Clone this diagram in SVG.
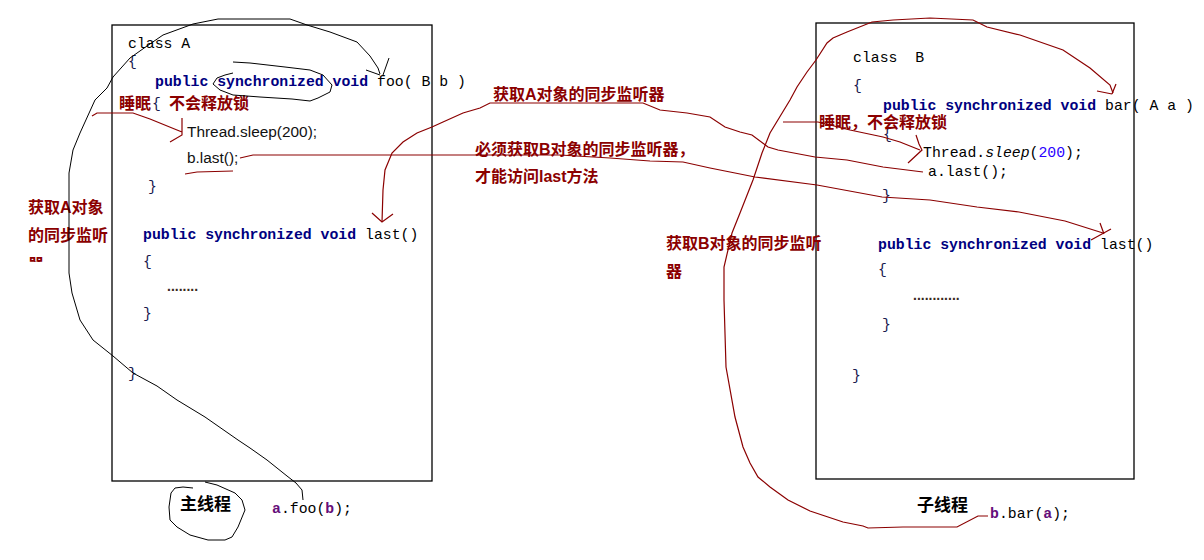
<svg xmlns="http://www.w3.org/2000/svg" width="1204" height="560" viewBox="0 0 1204 560">
<defs>
<style>
text{white-space:pre}
.code{font-family:'Liberation Mono',monospace;font-size:14.8px;fill:#000}
.kw{font-weight:bold;fill:#000080}
.br{fill:#1a1a50}
.dots{font-family:'Liberation Sans',sans-serif;font-size:14px;font-weight:bold;fill:#3a2a20}
.sans{font-family:'Liberation Sans',sans-serif;font-size:15.4px;fill:#111}
.lbl{font-family:'Liberation Sans','Noto Sans CJK SC',sans-serif;font-size:16px;font-weight:bold;fill:#8B0000}
.thr{font-family:'Liberation Sans','Noto Sans CJK SC',sans-serif;font-size:17px;font-weight:bold;fill:#000}
.var{font-weight:bold;fill:#660e7a}
.box{fill:#fff;stroke:#000;stroke-width:1.3}
.pen{fill:none;stroke:#000;stroke-width:1}
.red{fill:none;stroke:#8B0000;stroke-width:1.2}
</style>
<clipPath id="clipQi"><rect x="20" y="250" width="40" height="12"/></clipPath>
</defs>
<rect width="1204" height="560" fill="#fff"/>

<g id="classA">
<rect class="box" x="112" y="25" width="320" height="456"/>
<text class="code" x="128" y="48">class A</text>
<text class="code br" x="128" y="66">{</text>
<text class="code" x="155" y="86"><tspan class="kw">public synchronized void</tspan> foo( B b )</text>
<text class="code br" x="152" y="108">{</text>
<text class="sans" x="187" y="137">Thread.sleep(200);</text>
<text class="sans" x="187" y="163">b.last();</text>
<text class="code br" x="148" y="191">}</text>
<text class="code" x="143" y="239"><tspan class="kw">public synchronized void</tspan> last()</text>
<text class="code br" x="143" y="266">{</text>
<text class="dots" x="167" y="291">........</text>
<text class="code br" x="143" y="318">}</text>
<text class="code br" x="128" y="378">}</text>
</g>

<g id="classB">
<rect class="box" x="816" y="23" width="318" height="456"/>
<text class="code" x="853" y="62">class  B</text>
<text class="code br" x="853" y="90">{</text>
<text class="code" x="883" y="110"><tspan class="kw">public synchronized void</tspan> bar( A a )</text>
<text class="code br" x="883" y="139">{</text>
<text class="code" x="923" y="157">Thread.<tspan font-style="italic">sleep</tspan>(<tspan fill="#2a00ff">200</tspan>);</text>
<text class="code" x="928" y="176">a.last();</text>
<text class="code br" x="882" y="200">}</text>
<text class="code" x="878" y="249"><tspan class="kw">public synchronized void</tspan> last()</text>
<text class="code br" x="878" y="274">{</text>
<text class="dots" x="913" y="300">............</text>
<text class="code br" x="882" y="329">}</text>
<text class="code br" x="852" y="380">}</text>
</g>

<g id="main-thread">
<path class="pen" d="M205,482 L217,485 L235,493 L242,500 L245,510 L238,527 L232,537 L225,540 L208,540 L190,535 L177,527 L170,520 L169,507 L171,493 L175,488 L183,487 L193,488"/>
<text class="thr" x="180" y="510">主线程</text>
<text class="code" x="272" y="513"><tspan class="var">a</tspan>.foo(<tspan class="var">b</tspan>);</text>
</g>

<g id="child-thread">
<text class="thr" x="917" y="511">子线程</text>
<text class="code" x="990" y="518"><tspan class="var">b</tspan>.bar(<tspan class="var">a</tspan>);</text>
</g>

<g id="labels">
<text class="lbl" x="119" y="109">睡眠</text>
<text class="lbl" x="169" y="109">不会释放锁</text>
<text class="lbl" x="819" y="128">睡眠，不会释放锁</text>
<text class="lbl" x="493" y="100">获取A对象的同步监听器</text>
<text class="lbl" x="475" y="155">必须获取B对象的同步监听器，</text>
<text class="lbl" x="475" y="182">才能访问last方法</text>
<text class="lbl" x="28" y="213">获取A对象</text>
<text class="lbl" x="28" y="241">的同步监听</text>
<text class="lbl" x="28" y="270" clip-path="url(#clipQi)">器</text>
<text class="lbl" x="666" y="249">获取B对象的同步监听</text>
<text class="lbl" x="666" y="277">器</text>
</g>

<g id="connectors">
<path class="pen" d="M233,62 L250,63 L285,67 L310,70 L323,75 L332,85 L330,92 L318,98 L310,101 L292,99 L260,97 L233,95 L220,90 L213,84 L217,78 L225,75 L233,73"/>
<path class="pen" d="M303,500 L302,490 L296,483 L287,476 L267,460 L250,448 L238,440 L205,417 L177,400 L157,386 L133,373 L113,356 L93,340 L80,320 L72,293 L69,273 L69,173 L73,150 L80,133 L95,100 L107,88 L113,77 L130,58 L147,46 L163,35 L193,24 L218,19 L290,19 L307,25 L330,32 L357,42 L370,56 L378,68 L380,74"/>
<path class="pen" d="M366,70 L380,75 M389,58 L383,75"/>
<path class="red" d="M92,116 L97,113 L133,113 L150,119 L177,130 L182,132 M182,118 L182,135 L170,142"/>
<path class="red" d="M185,174 L197,172 L233,171"/>
<path class="red" d="M240,158 L253,155 L300,155 L560,155 L610,158 L650,161 L683,162 L710,168 L730,172 L755,177 L817,185 L882,197 L930,200 L977,207 L1019,212 L1065,221 L1103,233"/>
<path class="red" d="M1100,223 L1104,234 M1111,229 L1091,240"/>
<path class="red" d="M923,172 L883,167 L847,160 L815,157 L778,150 L768,147 L752,135 L740,132 L725,127 L710,117 L687,113 L660,110 L643,103 L490,103 L480,108 L463,113 L443,122 L432,127 L417,133 L403,142 L392,153 L385,170 L383,190 L382,222"/>
<path class="red" d="M372,213 L382,222 L393,214"/>
<path class="red" d="M783,122 L818,122 L850,130 L883,137 L900,142 L920,150 M916,135 L919,144 L922,150 L908,163"/>
<path class="red" d="M988,516 L978,516 L957,527 L903,527 L868,528 L863,526 L843,522 L810,511 L788,500 L770,487 L758,477 L750,463 L743,447 L735,417 L726,367 L724,300 L724,267 L732,233 L740,213 L753,180 L762,153 L770,133 L790,100 L797,87 L807,72 L816,60 L827,43 L833,38 L847,32 L872,22 L893,20 L930,18 L973,20 L987,27 L1020,35 L1063,50 L1090,68 L1110,85 L1113,93"/>
<path class="red" d="M1097,91 L1112,94 M1116,84 L1112,94"/>
</g>
</svg>
